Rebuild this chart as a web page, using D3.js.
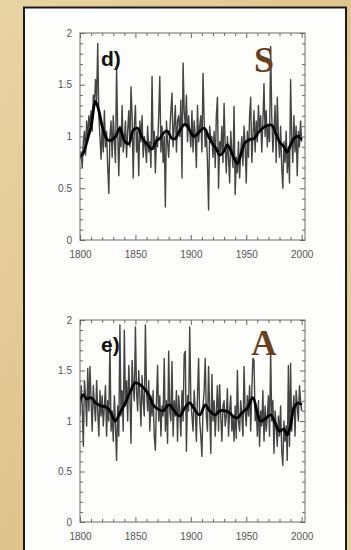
<!DOCTYPE html>
<html><head><meta charset="utf-8">
<script src="https://cdn.jsdelivr.net/npm/d3@7"></script>
<style>html,body{margin:0;padding:0;background:#e2c893;} svg{display:block}</style>
</head><body><svg id="c" width="351" height="550"></svg>
<script>
// ---------- DATA ----------
const startYear = 1800;
const xTickLabels = [1800, 1850, 1900, 1950, 2000];
const yTickLabels = [0, 0.5, 1, 1.5, 2];
const panelLabels = ["d)", "e)"];
const panelLetters = ["S", "A"];

// Annual series S (1800-2000)
const annualS = [
 0.78,0.85,0.70,0.95,1.05,0.82,1.15,0.98,1.20,1.10,
 1.25,1.05,1.40,1.30,1.55,1.35,1.90,1.20,1.00,0.78,
 1.10,0.85,1.25,0.90,1.05,0.70,0.45,1.00,1.15,0.80,
 1.20,0.95,0.75,1.67,1.05,0.62,1.10,0.90,1.30,0.85,
 0.95,1.15,0.80,1.05,1.25,0.90,1.48,1.20,0.60,1.10,
 1.30,0.85,1.05,0.62,1.15,0.95,1.20,0.80,1.00,0.90,
 0.75,1.10,0.85,0.95,0.70,1.58,0.88,1.05,0.65,1.00,
 0.90,1.20,1.58,0.85,1.10,0.75,1.00,0.32,1.15,0.95,
 0.80,1.05,1.25,1.42,0.90,1.10,1.30,0.85,1.15,1.20,
 1.00,1.35,0.60,1.71,1.25,1.10,1.40,0.95,1.20,1.05,
 0.90,1.25,0.85,1.15,1.00,0.70,1.30,0.95,1.10,1.20,
 0.85,1.61,1.15,0.90,1.05,0.75,0.29,1.10,0.95,1.00,
 0.80,1.05,0.70,1.20,1.38,0.50,0.95,0.85,1.10,0.75,
 1.32,0.90,0.65,1.00,0.80,0.55,1.05,0.85,0.70,1.29,
 0.44,0.80,0.65,0.95,0.60,0.85,1.00,0.72,1.10,0.90,
 0.55,1.05,0.80,1.20,1.38,0.75,1.00,1.25,0.85,1.15,
 0.95,1.30,1.05,1.20,0.85,1.15,1.51,1.00,1.25,0.90,
 1.10,0.95,1.87,1.20,0.85,1.05,1.30,0.75,1.38,1.00,
 0.80,1.10,0.70,0.50,0.95,0.75,1.05,0.65,0.90,0.55,
 1.55,1.00,0.75,1.20,0.85,1.10,0.62,1.05,0.90,1.15,0.95
];
// Smoothed series S
const smoothYearsS = [1800,1803,1807,1810,1814,1817,1820,1824,1827,1832,1836,1840,1844,1848,1852,1856,1860,1865,1869,1872,1876,1879,1883,1886,1890,1895,1899,1903,1908,1912,1916,1919,1923,1926,1930,1933,1937,1942,1946,1949,1953,1957,1961,1966,1970,1973,1977,1980,1984,1987,1990,1993,1997,2000];
const smoothS = [0.80,0.84,0.98,1.10,1.34,1.25,1.10,0.98,0.96,1.00,1.08,0.96,0.93,1.06,1.08,0.99,0.93,0.88,0.96,0.98,1.04,1.05,0.98,0.98,1.06,1.12,1.06,1.00,1.05,1.08,1.00,0.94,0.88,0.82,0.86,0.92,0.84,0.74,0.86,0.94,0.97,0.98,1.04,1.09,1.11,1.11,1.02,0.95,0.90,0.85,0.92,0.98,1.00,0.97];

// Annual series A (1800-2000)
const annualA = [
 1.05,1.35,1.15,0.75,1.40,1.25,0.95,1.52,1.10,1.54,
 1.20,0.90,1.35,1.15,1.00,1.40,1.10,0.85,1.30,1.05,
 1.25,0.95,1.15,1.35,0.85,1.20,1.00,1.80,0.90,1.10,
 0.80,1.25,0.95,0.61,1.15,0.85,1.95,1.05,1.30,0.90,
 1.90,1.15,1.40,1.00,1.55,1.25,0.78,1.60,1.35,1.20,
 1.93,1.30,1.10,1.50,1.25,0.95,1.45,1.20,1.05,1.95,
 1.30,1.10,1.40,0.90,1.25,1.05,1.30,0.85,0.71,1.20,
 1.55,1.00,1.25,0.85,1.15,1.05,1.62,0.90,1.20,0.78,
 1.69,1.10,1.00,1.59,0.85,1.20,1.05,1.30,0.80,1.25,
 1.10,0.85,1.30,1.00,1.66,1.69,0.70,1.25,1.10,1.93,
 1.20,1.05,0.90,1.30,1.10,0.80,1.25,1.62,1.00,0.85,
 0.65,1.15,1.30,1.62,1.05,0.90,1.54,1.10,0.68,1.46,
 1.00,1.20,0.85,1.10,1.35,0.90,1.36,1.05,0.80,1.15,
 1.20,0.95,1.05,1.32,0.85,1.10,1.25,0.90,1.05,0.80,
 1.15,0.83,1.50,1.00,0.90,1.20,1.05,0.85,1.54,1.10,
 0.95,1.25,1.05,1.35,0.90,1.30,1.62,1.60,1.00,1.15,
 0.85,1.20,0.75,1.10,0.95,1.30,0.80,1.15,0.90,1.05,
 1.25,0.85,1.69,1.00,1.20,0.68,1.10,0.95,0.75,1.05,
 0.85,1.15,0.70,0.56,1.00,0.80,0.95,0.61,1.55,0.75,
 1.57,0.90,1.10,1.25,0.85,1.30,1.15,1.00,1.35,1.20,1.10
];
// Smoothed series A
const smoothYearsA = [1800,1803,1806,1810,1814,1819,1823,1827,1830,1832,1836,1840,1845,1850,1854,1858,1862,1866,1870,1875,1878,1881,1885,1890,1894,1899,1903,1908,1913,1917,1922,1926,1931,1935,1939,1942,1946,1951,1956,1960,1963,1967,1972,1976,1980,1984,1987,1990,1993,1997,2000];
const smoothA = [1.20,1.26,1.22,1.23,1.18,1.15,1.14,1.10,1.03,1.00,1.08,1.16,1.28,1.38,1.36,1.32,1.26,1.16,1.12,1.10,1.14,1.16,1.10,1.05,1.12,1.18,1.12,1.06,1.16,1.10,1.06,1.10,1.10,1.08,1.04,1.03,1.08,1.13,1.23,1.08,1.00,1.02,1.06,0.98,0.90,0.92,0.86,0.96,1.13,1.18,1.16];

// ---------- DRAW ----------
const svg = d3.select("#c");
const defs = svg.append("defs");
const bg = defs.append("linearGradient").attr("id","bg").attr("x1","0").attr("y1","0").attr("x2","1").attr("y2","1");
bg.append("stop").attr("offset","0").attr("stop-color","#e9d4a4");
bg.append("stop").attr("offset","0.5").attr("stop-color","#e0c48e");
bg.append("stop").attr("offset","1").attr("stop-color","#e6cf9e");
svg.append("rect").attr("width",351).attr("height",550).attr("fill","url(#bg)");
// white panel
svg.append("rect").attr("x",24).attr("y",7.5).attr("width",322).attr("height",560)
  .attr("fill","#fdfdfb").attr("stroke","#1a1a1a").attr("stroke-width",2);

const x = d3.scaleLinear().domain([1800, 2003]).range([80, 305]);
const panels = [
  {annual: annualS, sy: smoothYearsS, sv: smoothS, top: 33, bottom: 240, label: panelLabels[0], letter: panelLetters[0], labBase: 66, letBase: 72, letSize: 36},
  {annual: annualA, sy: smoothYearsA, sv: smoothA, top: 320, bottom: 522, label: panelLabels[1], letter: panelLetters[1], labBase: 352, letBase: 355, letSize: 35}
];

const xMajor = xTickLabels;
const xMinor = d3.range(1800, 2001, 10).filter(v => v % 50 !== 0);
const yMinor = d3.range(1, 20).map(v => v / 10).filter(v => Math.abs(v*2 - Math.round(v*2)) > 1e-6);

panels.forEach((p, i) => {
  const y = d3.scaleLinear().domain([0, 2]).range([p.bottom, p.top]);
  const g = svg.append("g");
  const clipId = "clip" + i;
  defs.append("clipPath").attr("id", clipId).append("rect")
    .attr("x", 80).attr("y", p.top).attr("width", 225).attr("height", p.bottom - p.top);

  const plot = g.append("g").attr("clip-path", `url(#${clipId})`);
  const annualLine = d3.line().x((d, j) => x(startYear + j)).y(d => y(d));
  plot.append("path").datum(p.annual).attr("d", annualLine)
    .attr("fill","none").attr("stroke","#444").attr("stroke-width",1.4).attr("stroke-linejoin","round");
  const smoothLine = d3.line().x((d, j) => x(p.sy[j])).y(d => y(d)).curve(d3.curveCatmullRom);
  plot.append("path").datum(p.sv).attr("d", smoothLine)
    .attr("fill","none").attr("stroke","#000").attr("stroke-width",2.8).attr("stroke-linejoin","round");

  // frame
  g.append("rect").attr("x",80).attr("y",p.top).attr("width",225).attr("height",p.bottom-p.top)
    .attr("fill","none").attr("stroke","#6a6a6a").attr("stroke-width",1);

  const styleAxis = sel => {
    sel.select(".domain").remove();
    sel.selectAll(".tick line").attr("stroke","#666");
    sel.selectAll("text").attr("fill","#555").attr("font-family","Arial, Liberation Sans, sans-serif").attr("font-size",10);
  };
  // bottom
  g.append("g").attr("transform",`translate(0,${p.bottom})`)
    .call(d3.axisBottom(x).tickValues(xMajor).tickSize(-5).tickPadding(11).tickFormat(d3.format("d"))).call(styleAxis);
  g.append("g").attr("transform",`translate(0,${p.bottom})`)
    .call(d3.axisBottom(x).tickValues(xMinor).tickSize(-3).tickFormat("")).call(styleAxis);
  // top
  g.append("g").attr("transform",`translate(0,${p.top})`)
    .call(d3.axisTop(x).tickValues(xMajor).tickSize(-5).tickFormat("")).call(styleAxis);
  g.append("g").attr("transform",`translate(0,${p.top})`)
    .call(d3.axisTop(x).tickValues(xMinor).tickSize(-3).tickFormat("")).call(styleAxis);
  // left
  g.append("g").attr("transform",`translate(80,0)`)
    .call(d3.axisLeft(y).tickValues(yTickLabels).tickSize(-5).tickPadding(8).tickFormat(d => d3.format("")(d))).call(styleAxis);
  g.append("g").attr("transform",`translate(80,0)`)
    .call(d3.axisLeft(y).tickValues(yMinor).tickSize(-3).tickFormat("")).call(styleAxis);
  // right
  g.append("g").attr("transform",`translate(305,0)`)
    .call(d3.axisRight(y).tickValues(yTickLabels).tickSize(-5).tickFormat("")).call(styleAxis);
  g.append("g").attr("transform",`translate(305,0)`)
    .call(d3.axisRight(y).tickValues(yMinor).tickSize(-3).tickFormat("")).call(styleAxis);

  g.append("text").attr("x",101).attr("y",p.labBase).text(p.label)
    .attr("font-family","Arial, Liberation Sans, sans-serif").attr("font-weight","bold").attr("font-size",21).attr("fill","#111");
  g.append("text").attr("x",264).attr("y",p.letBase).attr("text-anchor","middle").text(p.letter)
    .attr("font-family","Liberation Serif, Times New Roman, serif").attr("font-weight","bold")
    .attr("font-size",p.letSize).attr("fill","#6b3d1b");
});
</script>
</body></html>
